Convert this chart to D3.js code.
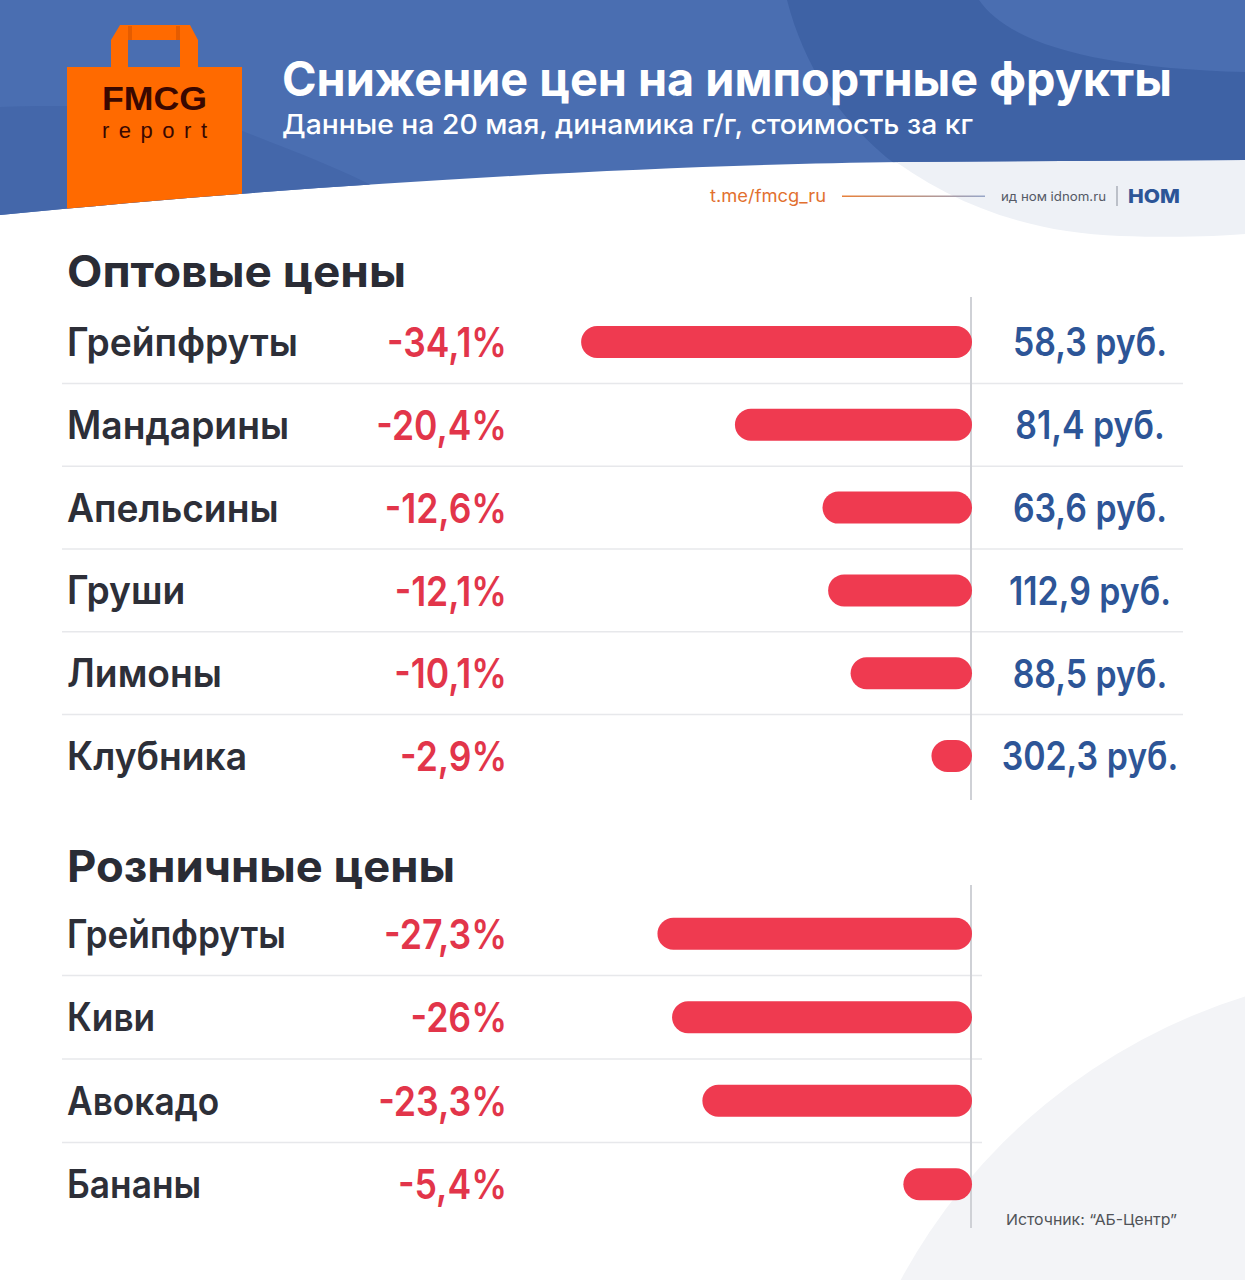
<!DOCTYPE html>
<html>
<head>
<meta charset="utf-8">
<script src="https://cdn.jsdelivr.net/npm/d3@7"></script>
<style>
  html, body { margin: 0; padding: 0; background: #fff; }
  svg { display: block; font-family: Inter, 'Open Sans', sans-serif; }
</style>
</head>
<body>
<div class="chart"></div>
<script>
// data
const wholesaleFruits = ['Грейпфруты', 'Мандарины', 'Апельсины', 'Груши', 'Лимоны', 'Клубника'];
const wholesaleChange = [-34.1, -20.4, -12.6, -12.1, -10.1, -2.9];
const wholesalePrice = [58.3, 81.4, 63.6, 112.9, 88.5, 302.3];
const retailFruits = ['Грейпфруты', 'Киви', 'Авокадо', 'Бананы'];
const retailChange = [-27.3, -26, -23.3, -5.4];

const width = 1245;
const height = 1280;
const axisX = 971;

const svg = d3
  .select('.chart')
  .append('svg')
  .attr('width', width)
  .attr('height', height);

const fmtPct = d => String(d).replace('.', ',') + '%';
const fmtPrice = d => d3.format('.1f')(d).replace('.', ',') + ' руб.';

// squeeze a group of texts so the first one gets the wanted width
function squeeze(sel, target) {
  const nodes = sel.nodes();
  const ratio = target / nodes[0].getComputedTextLength();
  sel.each(function() {
    const w = this.getComputedTextLength();
    d3.select(this)
      .attr('textLength', w * ratio)
      .attr('lengthAdjust', 'spacingAndGlyphs');
  });
}

// background
svg.append('rect').attr('width', width).attr('height', height).attr('fill', '#fff');
svg
  .append('path')
  .attr('d', 'M880,150 C950,205 1030,233 1120,236 C1180,238 1220,236 1245,234 V150 Z')
  .attr('fill', '#eef1f6');
svg.append('circle').attr('cx', 1420).attr('cy', 1560).attr('r', 590).attr('fill', '#f3f4f7');

// header
const headerPath = 'M0,0 H1245 V160 L900,162 C650,165 300,185 0,215 Z';
const defs = svg.append('defs');
defs.append('clipPath').attr('id', 'headClip').append('path').attr('d', headerPath);
const grad = defs.append('linearGradient').attr('id', 'linkLine');
grad.append('stop').attr('offset', '0%').attr('stop-color', '#e8803a');
grad.append('stop').attr('offset', '100%').attr('stop-color', '#97a6c8');

svg.append('path').attr('d', headerPath).attr('fill', '#4a6eb1');
const head = svg.append('g').attr('clip-path', 'url(#headClip)');
head
  .append('path')
  .attr('d', 'M787,0 C805,70 845,130 910,175 L1245,175 L1245,72 C1100,68 1010,45 979,0 Z')
  .attr('fill', '#3e62a5');
head
  .append('path')
  .attr('d', 'M0,107 C100,103 190,110 240,130 C290,150 340,168 380,190 L380,230 L0,230 Z')
  .attr('fill', '#4467aa');

// logo bag
head.append('rect').attr('x', 67).attr('y', 67).attr('width', 175).attr('height', 170).attr('fill', '#ff6a00');
head
  .append('path')
  .attr('d', 'M111,67 V40 L120,25 H190 L198,40 V67 H180 V40 H128 V67 Z')
  .attr('fill', '#ff6a00');
head.append('rect').attr('x', 128).attr('y', 26).attr('width', 4).attr('height', 14).attr('fill', '#e55c00');
head.append('rect').attr('x', 176).attr('y', 26).attr('width', 4).attr('height', 14).attr('fill', '#e55c00');

svg
  .append('text')
  .attr('x', 102)
  .attr('y', 110)
  .attr('font-family', 'Liberation Sans, Arial, sans-serif')
  .attr('font-weight', 700)
  .attr('font-size', 33)
  .attr('fill', '#3a0800')
  .attr('textLength', 105)
  .attr('lengthAdjust', 'spacingAndGlyphs')
  .text('FMCG');
svg
  .append('text')
  .attr('x', 102)
  .attr('y', 138)
  .attr('font-family', 'Liberation Sans, Arial, sans-serif')
  .attr('font-size', 22)
  .attr('fill', '#3a0800')
  .attr('textLength', 105)
  .attr('lengthAdjust', 'spacing')
  .text('report');

// titles
const title = svg
  .append('text')
  .attr('x', 282)
  .attr('y', 96)
  .attr('fill', '#fff')
  .attr('font-weight', 700)
  .attr('font-size', 48)
  .text('Снижение цен на импортные фрукты');
squeeze(title, 890);
const subtitle = svg
  .append('text')
  .attr('x', 282)
  .attr('y', 134)
  .attr('fill', '#fff')
  .attr('font-weight', 500)
  .attr('font-size', 27)
  .text('Данные на 20 мая, динамика г/г, стоимость за кг');
squeeze(subtitle, 691);

// links
const link = svg
  .append('text')
  .attr('x', 710)
  .attr('y', 202)
  .attr('fill', '#e2702f')
  .attr('font-size', 17)
  .text('t.me/fmcg_ru');
squeeze(link, 116);
svg
  .append('rect')
  .attr('x', 842)
  .attr('y', 195.5)
  .attr('width', 143)
  .attr('height', 1.5)
  .attr('fill', 'url(#linkLine)');
const idnom = svg
  .append('text')
  .attr('x', 1001)
  .attr('y', 201)
  .attr('fill', '#555a66')
  .attr('font-size', 12.5)
  .text('ид ном idnom.ru');
squeeze(idnom, 105);
svg
  .append('line')
  .attr('x1', 1117)
  .attr('x2', 1117)
  .attr('y1', 186)
  .attr('y2', 206)
  .attr('stroke', '#9aa0ab')
  .attr('stroke-width', 1.2);
const nom = svg
  .append('text')
  .attr('x', 1128)
  .attr('y', 203)
  .attr('fill', '#2c5597')
  .attr('font-weight', 800)
  .attr('font-size', 19)
  .text('НОМ');
squeeze(nom, 52);

// one block of bars
function drawSection(opt) {
  const g = svg.append('g');
  const yScale = d3
    .scaleBand()
    .domain(opt.names)
    .range(opt.range);
  const xScale = d3
    .scaleLinear()
    .domain([0, 35])
    .range([8, 401]);
  const rows = opt.names.map((name, i) => ({
    name: name,
    change: opt.changes[i],
    price: opt.prices ? opt.prices[i] : null,
  }));

  const head = g
    .append('text')
    .attr('x', 67)
    .attr('y', opt.titleY)
    .attr('fill', '#2a2c35')
    .attr('font-weight', 700)
    .attr('font-size', 44)
    .text(opt.title);
  squeeze(head, opt.titleWidth);

  g.selectAll('.sep')
    .data(opt.names.slice(1))
    .enter()
    .append('line')
    .attr('class', 'sep')
    .attr('x1', 62)
    .attr('x2', opt.sepRight)
    .attr('y1', d => yScale(d))
    .attr('y2', d => yScale(d))
    .attr('stroke', '#e7e8eb')
    .attr('stroke-width', 1.5);

  g.append('line')
    .attr('x1', axisX)
    .attr('x2', axisX)
    .attr('y1', opt.lineTop)
    .attr('y2', opt.lineBottom)
    .attr('stroke', '#cfd1d6')
    .attr('stroke-width', 2);

  const barH = 32;
  g.selectAll('.bar')
    .data(rows)
    .enter()
    .append('rect')
    .attr('class', 'bar')
    .attr('x', d => axisX + 1 - Math.max(xScale(-d.change), barH))
    .attr('y', d => yScale(d.name) + yScale.bandwidth() / 2 - barH / 2)
    .attr('width', d => Math.max(xScale(-d.change), barH))
    .attr('height', barH)
    .attr('rx', barH / 2)
    .attr('fill', '#ef3a50');

  const labels = g
    .selectAll('.label')
    .data(rows)
    .enter()
    .append('text')
    .attr('class', 'label')
    .attr('x', 67)
    .attr('y', d => yScale(d.name) + yScale.bandwidth() / 2)
    .attr('dy', '0.36em')
    .attr('fill', '#2d2f38')
    .attr('font-weight', 600)
    .attr('font-size', 39)
    .text(d => d.name);
  squeeze(labels, opt.labelWidth);

  const pcts = g
    .selectAll('.pct')
    .data(rows)
    .enter()
    .append('text')
    .attr('class', 'pct')
    .attr('x', 507)
    .attr('y', d => yScale(d.name) + yScale.bandwidth() / 2)
    .attr('dy', '0.37em')
    .attr('text-anchor', 'end')
    .attr('fill', '#e2354a')
    .attr('font-weight', 600)
    .attr('font-size', 41)
    .text(d => fmtPct(d.change));
  squeeze(pcts, opt.pctWidth);

  if (opt.prices) {
    const prices = g
      .selectAll('.price')
      .data(rows)
      .enter()
      .append('text')
      .attr('class', 'price')
      .attr('x', 1090)
      .attr('y', d => yScale(d.name) + yScale.bandwidth() / 2)
      .attr('dy', '0.37em')
      .attr('text-anchor', 'middle')
      .attr('fill', '#2d5597')
      .attr('font-weight', 600)
      .attr('font-size', 39)
      .text(d => fmtPrice(d.price));
    squeeze(prices, 154);
  }
}

drawSection({
  title: 'Оптовые цены',
  titleY: 287,
  titleWidth: 339,
  names: wholesaleFruits,
  changes: wholesaleChange,
  prices: wholesalePrice,
  range: [300.6, 797.4],
  lineTop: 297,
  lineBottom: 800,
  sepRight: 1183,
  labelWidth: 231,
  pctWidth: 120,
});

drawSection({
  title: 'Розничные цены',
  titleY: 882,
  titleWidth: 388,
  names: retailFruits,
  changes: retailChange,
  prices: null,
  range: [892, 1226],
  lineTop: 885,
  lineBottom: 1228,
  sepRight: 982,
  labelWidth: 219,
  pctWidth: 123,
});

// source
const source = svg
  .append('text')
  .attr('x', 1006)
  .attr('y', 1225)
  .attr('fill', '#505358')
  .attr('font-size', 15)
  .text('Источник: “АБ-Центр”');
squeeze(source, 171);
</script>
</body>
</html>
